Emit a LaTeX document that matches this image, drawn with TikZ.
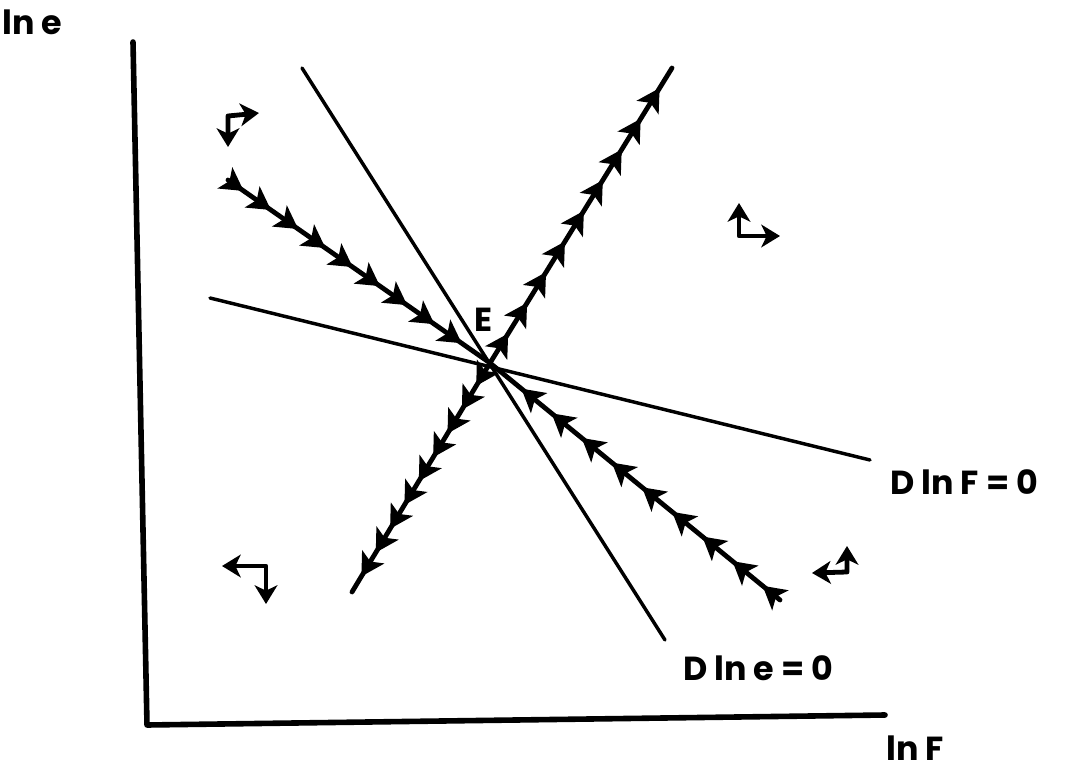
\documentclass[tikz,border=0pt]{standalone}
\usepackage{fontspec}
\setmainfont{Poppins}
\usetikzlibrary{arrows.meta,decorations.markings}
\begin{document}
\begin{tikzpicture}[x=0.75pt,y=-0.75pt,
  axisline/.style={line width=4.2pt,line cap=round,line join=round},
  isoline/.style={line width=2.6pt,line cap=round},
  armhead/.style={decoration={markings,mark=between positions #1 step 0.104 with {\arrow{Stealth[length=17pt,width=19pt,inset=4pt]}}}},
  armline/.style={line width=3.6pt,line cap=round,postaction=decorate},
  dirsym/.style={line width=3.6pt,line join=round,{Stealth[length=14pt,width=17pt,inset=4pt]}-{Stealth[length=14pt,width=17pt,inset=4pt]}},
  lbl/.style={font=\fontsize{25}{27}\selectfont\bfseries,inner sep=0pt}]
\useasboundingbox (0,0) rectangle (1082,770);
% axes
\coordinate (yt) at (133,42);
\coordinate (o) at (147,725);
\coordinate (xr) at (885,715);
\draw[axisline] (yt) -- (o) -- (xr);
% equilibrium
\coordinate (E) at (490,363);
% isoclines
\coordinate (s1) at (302,68);
\coordinate (s2) at (665,640);
\coordinate (f1) at (210,298);
\coordinate (f2) at (870,460);
\draw[isoline] (s1) -- (s2);
\draw[isoline] (f1) -- (f2);
% saddle paths
\coordinate (u1) at (672,68);
\coordinate (u2) at (352,592);
\coordinate (st1) at (228,180);
\coordinate (st2) at (780,600);
\draw[armline,armhead={0.1 and 1}] (E) -- (u1);
\draw[armline,armhead={0.1 and 1}] (E) -- (u2);
\draw[armline,armhead={0.06 and 0.92}] (st1) -- (E);
\draw[armline,armhead={0.06 and 0.92}] (st2) -- (E);
% direction symbols
\coordinate (a1) at (259,113); \coordinate (ac) at (228,116); \coordinate (a2) at (228,147);
\draw[dirsym] (a1) -- (ac) -- (a2);
\coordinate (b1) at (739,203); \coordinate (bc) at (739,236); \coordinate (b2) at (780,236);
\draw[dirsym] (b1) -- (bc) -- (b2);
\coordinate (c1) at (222,566); \coordinate (cc) at (266,566); \coordinate (c2) at (266,604);
\draw[dirsym] (c1) -- (cc) -- (c2);
\coordinate (d1) at (812,573); \coordinate (dc) at (847,572); \coordinate (d2) at (847,546);
\draw[dirsym] (d1) -- (dc) -- (d2);
% labels
\node[lbl] (lE) at (484,320) {E};
\node[lbl,anchor=west] (lye) at (2,22) {ln e};
\node[lbl,anchor=west] (lxF) at (886,748) {ln F};
\node[lbl,anchor=west] (lF0) at (890,482) {D ln F = 0};
\node[lbl,anchor=west] (le0) at (683,668) {D ln e = 0};
\end{tikzpicture}
\end{document}
